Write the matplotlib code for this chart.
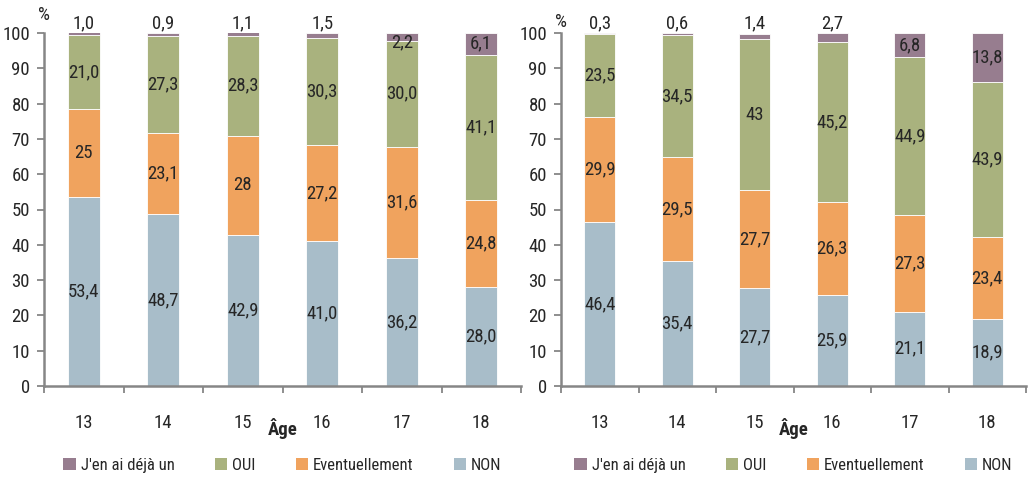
import matplotlib
matplotlib.use("Agg")
import matplotlib.pyplot as plt
from matplotlib import font_manager
from matplotlib.patches import Patch
import numpy as np

# --- data -------------------------------------------------------------
ages = ["13", "14", "15", "16", "17", "18"]
series_names = ["NON", "Eventuellement", "OUI", "J'en ai déjà un"]

# left panel (labels as printed; bar heights parsed from them)
left_non = ["53,4", "48,7", "42,9", "41,0", "36,2", "28,0"]
left_event = ["25", "23,1", "28", "27,2", "31,6", "24,8"]
left_oui = ["21,0", "27,3", "28,3", "30,3", "30,0", "41,1"]
left_deja = ["1,0", "0,9", "1,1", "1,5", "2,2", "6,1"]

# right panel
right_non = ["46,4", "35,4", "27,7", "25,9", "21,1", "18,9"]
right_event = ["29,9", "29,5", "27,7", "26,3", "27,3", "23,4"]
right_oui = ["23,5", "34,5", "43", "45,2", "44,9", "43,9"]
right_deja = ["0,3", "0,6", "1,4", "2,7", "6,8", "13,8"]

# which top-segment labels sit above the bar
left_deja_above = [True, True, True, True, False, False]
right_deja_above = [True, True, True, True, False, False]

colors = {"NON": "#A8BDC9", "Eventuellement": "#F0A35E",
          "OUI": "#A9B27E", "J'en ai déjà un": "#977D8F"}

# --- font -------------------------------------------------------------
available = {f.name for f in font_manager.fontManager.ttflist}
for fam in ["Roboto Condensed", "Liberation Sans Narrow", "Open Sans Condensed",
            "Liberation Sans", "DejaVu Sans"]:
    if fam in available:
        plt.rcParams["font.family"] = [fam, "DejaVu Sans"]
        break

TXT = "#262626"
AXC = "#868686"
FS = 13.5
LEG_FS = 12


def num(s):
    return float(s.replace(",", "."))


def draw_panel(ax, non, event, oui, deja, deja_above, pct_y):
    x = np.arange(len(ages))
    stacks = [non, event, oui, deja]
    bottom = np.zeros(len(ages))
    for name, labels in zip(series_names, stacks):
        vals = np.array([num(s) for s in labels])
        ax.bar(x, vals, bottom=bottom, width=0.4, color=colors[name],
               edgecolor="white", linewidth=0.6, zorder=2)
        for i, (v, s) in enumerate(zip(vals, labels)):
            if name == "J'en ai déjà un":
                top = min(bottom[i] + v, 100)
                if deja_above[i]:
                    y = 100 + 2.8
                elif v < 3:
                    y = top - v / 2 - 1.6
                else:
                    y = top - v / 2
            else:
                y = bottom[i] + v / 2
            ax.text(x[i], y, s, ha="center", va="center", fontsize=FS,
                    color=TXT, zorder=3, clip_on=False)
        bottom += vals

    ax.set_xlim(-0.5, len(ages) - 0.5)
    ax.set_ylim(0, 100)
    ax.set_yticks(np.arange(0, 101, 10))
    ax.set_xticks(x)
    ax.set_xticklabels(ages)
    ax.set_xticks(np.arange(-0.5, len(ages), 1.0), minor=True)
    ax.tick_params(axis="x", which="major", length=0, pad=20,
                   labelsize=FS, labelcolor=TXT)
    ax.tick_params(axis="x", which="minor", length=5, width=1.3, color=AXC)
    ax.tick_params(axis="y", length=5, width=1.3, color=AXC, pad=5,
                   labelsize=FS, labelcolor=TXT)
    for side in ["top", "right"]:
        ax.spines[side].set_visible(False)
    for side in ["left", "bottom"]:
        ax.spines[side].set_color(AXC)
        ax.spines[side].set_linewidth(1.8)
    ax.text(0.0, pct_y, "%", transform=ax.transAxes, ha="center", va="center",
            fontsize=FS, color=TXT)
    ax.text(2.5, -12.0, "Âge", ha="center", va="center", fontsize=FS,
            fontweight="bold", color=TXT)
    handles = [Patch(facecolor=colors[n], edgecolor="none")
               for n in reversed(series_names)]
    ax.legend(handles, list(reversed(series_names)), loc="center",
              bbox_to_anchor=(0.5, -0.225), ncol=4, frameon=False,
              fontsize=LEG_FS, handlelength=0.75, handleheight=0.75,
              handletextpad=0.3, columnspacing=2.4, labelcolor=TXT,
              borderaxespad=0, borderpad=0)


fig = plt.figure(figsize=(10.30, 4.78), dpi=100)
ax1 = fig.add_axes([44 / 1030, 1 - 386 / 478, (521 - 44) / 1030, (386 - 33) / 478])
ax2 = fig.add_axes([561 / 1030, 1 - 386 / 478, (1026 - 561) / 1030, (386 - 33) / 478])
draw_panel(ax1, left_non, left_event, left_oui, left_deja, left_deja_above, 1.05)
draw_panel(ax2, right_non, right_event, right_oui, right_deja, right_deja_above, 1.03)

fig.savefig("out.png", dpi=100)
